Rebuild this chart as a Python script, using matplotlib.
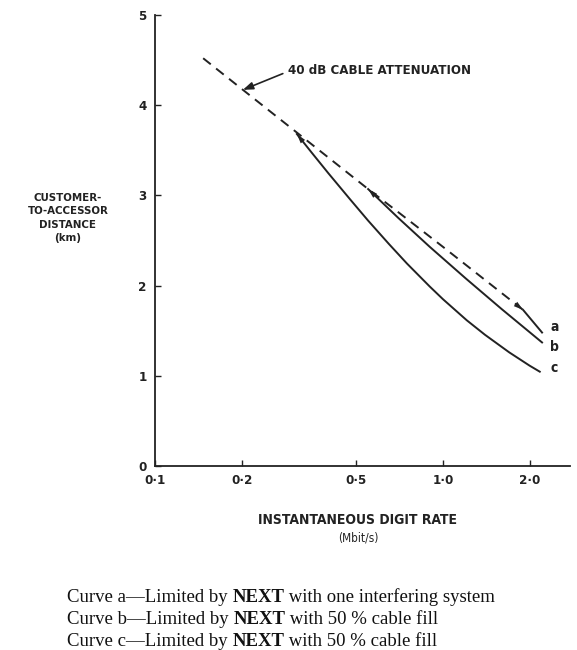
import matplotlib
matplotlib.use("Agg")
import matplotlib.pyplot as plt

# data (digit rate in Mbit/s, distance in km)
atten_x = [0.147, 0.202, 0.31, 0.55, 0.709, 1.0, 1.9]
atten_y = [4.52, 4.17, 3.70, 3.07, 2.80, 2.43, 1.73]

a_x = [1.9, 2.21]
a_y = [1.73, 1.48]

b_x = [0.55, 0.7, 0.9, 1.2, 1.6, 2.21]
b_y = [3.07, 2.75, 2.43, 2.08, 1.74, 1.37]

c_x = [0.311, 0.35, 0.4, 0.475, 0.55, 0.65, 0.75, 0.9, 1.0, 1.21, 1.4, 1.7, 2.0, 2.17]
c_y = [3.68, 3.475, 3.246, 2.96, 2.72, 2.46, 2.245, 1.99, 1.85, 1.616, 1.455, 1.26, 1.113, 1.046]

xticks = [0.1, 0.2, 0.5, 1.0, 2.0]
xticklabels = ['0·1', '0·2', '0·5', '1·0', '2·0']
yticks = [0, 1, 2, 3, 4, 5]

captions = [
    ('Curve a—Limited by ', 'NEXT', ' with one interfering system'),
    ('Curve b—Limited by ', 'NEXT', ' with 50 % cable fill'),
    ('Curve c—Limited by ', 'NEXT', ' with 50 % cable fill'),
]

narrow = dict(family='DejaVu Sans', fontstretch='condensed', fontweight='bold')
serif = ['Liberation Serif', 'DejaVu Serif']
ink = '#222222'

fig = plt.figure(figsize=(5.77, 6.5), dpi=100)
ax = fig.add_axes([0.2686, 0.283, 0.719, 0.694])

lw = 1.4
ax.plot(atten_x, atten_y, color=ink, lw=lw, linestyle=(0, (5, 3.5)))
ax.plot(a_x, a_y, color=ink, lw=lw)
ax.plot(b_x, b_y, color=ink, lw=lw)
ax.plot(c_x, c_y, color=ink, lw=lw)

# arrow heads at the ends of the curves
head = dict(arrowstyle='-|>,head_length=0.7,head_width=0.2', color=ink, lw=0,
            shrinkA=0, shrinkB=0)
ax.annotate('', xy=(b_x[0], b_y[0]), xytext=(b_x[1], b_y[1]), arrowprops=head)
ax.annotate('', xy=(c_x[0], c_y[0]), xytext=(c_x[1], c_y[1]), arrowprops=head)
ax.annotate('', xy=(atten_x[-1], atten_y[-1]), xytext=(atten_x[-2], atten_y[-2]),
            arrowprops=head)

ax.annotate('', xy=(atten_x[1], atten_y[1]), xytext=(0.278, 4.35),
            arrowprops=dict(arrowstyle='-|>,head_length=0.6,head_width=0.22',
                            color=ink, lw=1.2, shrinkA=0, shrinkB=0))
ax.text(0.289, 4.38, '40 dB CABLE ATTENUATION', va='center', ha='left',
        fontsize=9.5, color=ink, **narrow)

for lab, yl in zip(['a', 'b', 'c'], [1.54, 1.32, 1.09]):
    ax.text(2.36, yl, lab, fontsize=10, color=ink, va='center', ha='left', **narrow)

ax.set_xscale('log')
ax.set_xlim(0.1, 2.76)
ax.set_ylim(0, 5)
ax.set_xticks(xticks)
ax.set_xticklabels(xticklabels)
ax.minorticks_off()
ax.set_yticks(yticks)
for lab in ax.get_xticklabels() + ax.get_yticklabels():
    lab.set_family('DejaVu Sans')
    lab.set_stretch('condensed')
    lab.set_fontweight('bold')
    lab.set_fontsize(9.5)
    lab.set_color(ink)
ax.tick_params(direction='in', length=4, width=1, pad=6, colors=ink)
ax.spines['top'].set_visible(False)
ax.spines['right'].set_visible(False)
for s in ['left', 'bottom']:
    ax.spines[s].set_linewidth(1.3)
    ax.spines[s].set_color(ink)

fig.text(68 / 577, 1 - 218 / 650, 'CUSTOMER-\nTO-ACCESSOR\nDISTANCE\n(km)',
         ha='center', va='center', fontsize=8.2, color=ink, linespacing=1.45, **narrow)
fig.text(358 / 577, 1 - 520 / 650, 'INSTANTANEOUS DIGIT RATE', ha='center',
         va='center', fontsize=10, color=ink, **narrow)
fig.text(358 / 577, 1 - 538 / 650, '(Mbit/s)', ha='center', va='center',
         fontsize=8.5, color=ink, family='DejaVu Sans', fontstretch='condensed')

ys = [597, 619, 641]
for (pre, bold, post), yy in zip(captions, ys):
    t = fig.text(67 / 577, 1 - yy / 650, pre, ha='left', va='center',
                 fontsize=13.5, family=serif, color='#111111')
    t2 = ax.annotate(bold, xycoords=t, xy=(1, 0), va='bottom', ha='left',
                     fontsize=13.5, family=serif, fontweight='bold', color='#111111',
                     annotation_clip=False)
    ax.annotate(post, xycoords=t2, xy=(1, 0), va='bottom', ha='left',
                fontsize=13.5, family=serif, color='#111111', annotation_clip=False)

fig.savefig('out.png', dpi=100)
